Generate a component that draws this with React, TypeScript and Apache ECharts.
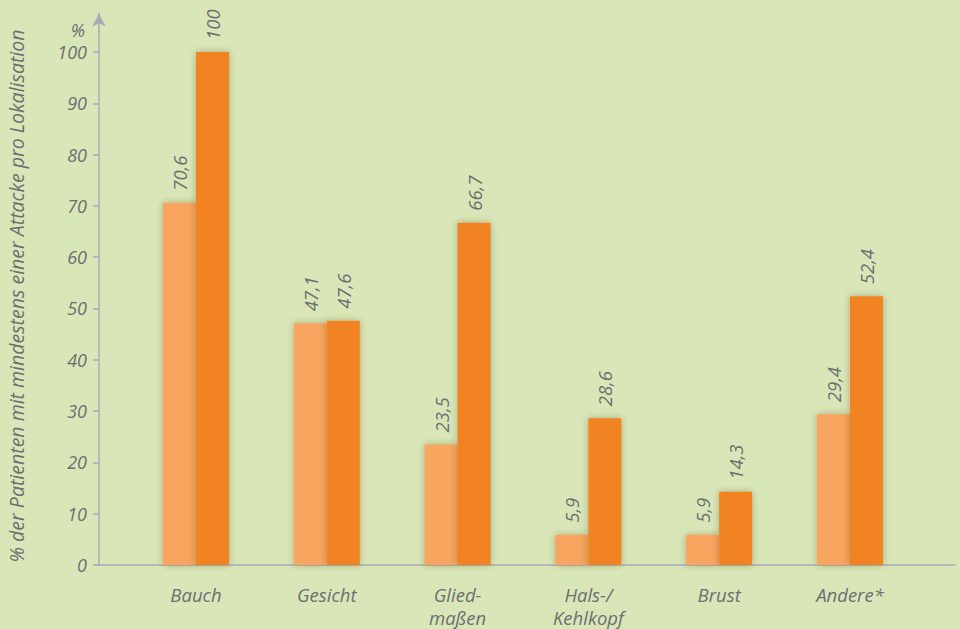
import React, { useEffect, useRef } from "react";
import * as echarts from "echarts";

const categories = ["Bauch", "Gesicht", "Glied-\nmaßen", "Hals-/\nKehlkopf", "Brust", "Andere*"];
const seriesLight = [70.6, 47.1, 23.5, 5.9, 5.9, 29.4];
const seriesDark = [100, 47.6, 66.7, 28.6, 14.3, 52.4];
const yTicks = [0, 10, 20, 30, 40, 50, 60, 70, 80, 90, 100];
const yTitle = "% der Patienten mit mindestens einer Attacke pro Lokalisation";
const yUnit = "%";

const BG = "#d9e7b8";
const TEXT = "#6d6e71";
const AXIS = "#a9aab8";
const LIGHT = "#f7a55e";
const DARK = "#f28323";
const FONT = "'Open Sans', sans-serif";

const fmt = (v: number) => String(v).replace(".", ",");

export default function App() {
  const ref = useRef<HTMLDivElement>(null);
  useEffect(() => {
    if (!ref.current) return;
    const chart = echarts.init(ref.current, undefined, { renderer: "svg" });
    const labelCfg = {
      show: true,
      position: "top" as const,
      rotate: 90,
      align: "left" as const,
      verticalAlign: "middle" as const,
      distance: 12,
      color: TEXT,
      fontFamily: FONT,
      fontStyle: "italic" as const,
      fontSize: 18.5,
      formatter: (p: any) => fmt(p.value[1]),
    };
    const shadow = {
      shadowColor: "rgba(70,50,0,0.35)",
      shadowBlur: 7,
    };
    chart.setOption({
      animation: false,
      backgroundColor: BG,
      grid: { left: 99, right: 5, top: 13.5, bottom: 64, containLabel: false },
      xAxis: {
        type: "value",
        min: -0.7416,
        max: 5.803,
        splitLine: { show: false },
        axisLine: { show: true, onZero: false, lineStyle: { color: AXIS, width: 1.5 } },
        axisTick: { show: false },
        axisLabel: {
          customValues: [0, 1, 2, 3, 4, 5],
          formatter: (v: number) => categories[Math.round(v)] ?? "",
          color: TEXT,
          fontFamily: FONT,
          fontStyle: "italic",
          fontSize: 18.5,
          lineHeight: 23,
          margin: 18,
          verticalAlign: "top",
        },
      },
      yAxis: {
        type: "value",
        min: 0,
        max: 107.5,
        splitLine: { show: false },
        axisLine: {
          show: true,
          onZero: false,
          symbol: ["none", "arrow"],
          symbolSize: [10, 13],
          lineStyle: { color: AXIS, width: 1.5 },
        },
        axisTick: { show: true, customValues: yTicks, length: 6, lineStyle: { color: AXIS, width: 1.5 } },
        axisLabel: {
          customValues: yTicks,
          color: TEXT,
          fontFamily: FONT,
          fontStyle: "italic",
          fontSize: 18,
          margin: 12,
        },
      },
      graphic: [
        {
          type: "text",
          x: 16,
          y: 296,
          rotation: Math.PI / 2,
          style: {
            text: yTitle,
            fill: TEXT,
            font: `italic 19.5px ${FONT}`,
            align: "center",
            verticalAlign: "middle",
          },
        },
        {
          type: "text",
          x: 78,
          y: 30,
          style: {
            text: yUnit,
            fill: TEXT,
            font: `italic 18px ${FONT}`,
            align: "center",
            verticalAlign: "middle",
          },
        },
      ],
      series: [
        {
          type: "bar",
          data: seriesLight.map((v, i) => [i, v]),
          barWidth: 33,
          barGap: "0%",
          itemStyle: { color: LIGHT, ...shadow },
          label: labelCfg,
        },
        {
          type: "bar",
          data: seriesDark.map((v, i) => [i, v]),
          barWidth: 33,
          barGap: "0%",
          itemStyle: { color: DARK, ...shadow },
          label: labelCfg,
        },
      ],
    });
    return () => chart.dispose();
  }, []);
  return (
    <div
      ref={ref}
      style={{ position: "fixed", left: 0, top: 0, width: 960, height: 629 }}
    />
  );
}
